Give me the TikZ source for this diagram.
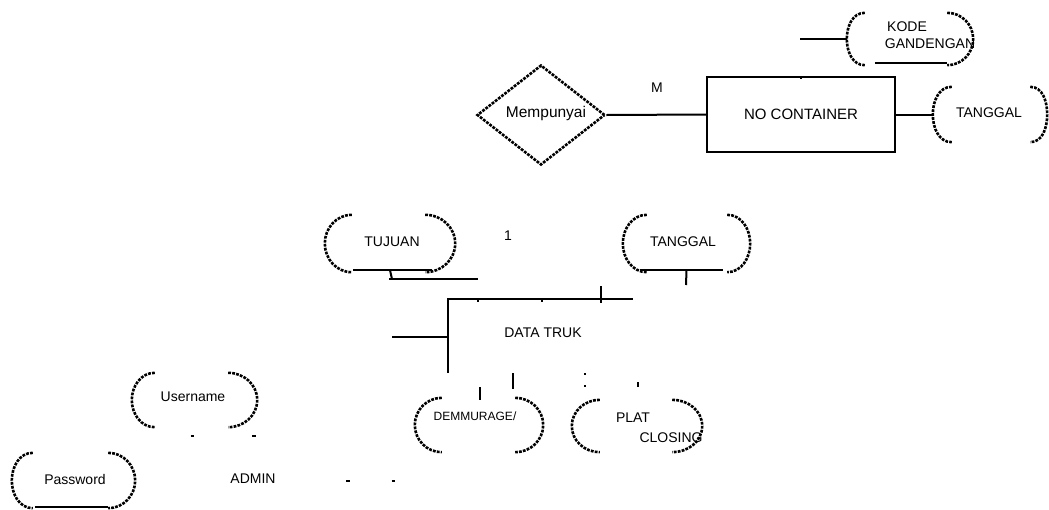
\documentclass[tikz,border=0pt]{standalone}
\usepackage{fontspec}
\setmainfont{Liberation Sans}
\usetikzlibrary{shapes.geometric}

\tikzset{
  line/.style={line width=2pt},
  thinline/.style={line width=1.5pt},
  rough/.style={line width=2.6pt, dash pattern=on 2.8pt off 1.2pt},
  attr/.style={draw=none, inner sep=0pt},
  lbl/.style={inner sep=0pt, font=\fontsize{14}{16}\selectfont},
  smalllbl/.style={inner sep=0pt, font=\fontsize{12}{14}\selectfont},
  dot/.style={line width=2.2pt},
}

% left and right halves of an attribute outline: node, left inset, right inset
\newcommand{\attrarcs}[3]{%
  \draw[rough] ([xshift=#2pt]#1.north west) to[out=180,in=90] (#1.west)
               to[out=-90,in=180] ([xshift=#2pt]#1.south west);
  \draw[rough] ([xshift=-#3pt]#1.north east) to[out=0,in=90] (#1.east)
               to[out=-90,in=0] ([xshift=-#3pt]#1.south east);}

\begin{document}
\begin{tikzpicture}[x=1pt,y=-1pt]
\useasboundingbox (0,0) rectangle (1049,509);

% ---------- NO CONTAINER ----------
\node[draw, line width=2pt, minimum width=188pt, minimum height=75pt, inner sep=0pt]
  (cont) at (801,114.5) {};
\node[lbl, font=\fontsize{15}{17}\selectfont] (contlbl) at (801,114) {NO CONTAINER};
\draw[thinline] (cont.north) -- ++(0,3);

\node[diamond, draw, rough, minimum width=128pt, minimum height=100pt, inner sep=0pt]
  (mp) at (541,115) {};
\node[lbl, font=\fontsize{15.5}{17}\selectfont] (mplbl) at (546,113) {Mempunyai};
\draw[line] (mp.east) -- (cont.west);
\node[lbl] (mM) at (657,88) {M};

% KODE GANDENGAN
\node[attr, minimum width=126pt, minimum height=52pt] (kode) at (910,39) {};
\attrarcs{kode}{18}{26}
\draw[line] ([xshift=28pt,yshift=2pt]kode.south west) -- ([xshift=-26pt,yshift=2pt]kode.south east);
\node[lbl] (kodeA) at (907,27) {KODE};
\node[lbl] (kodeB) at (930,44) {GANDENGAN};
\coordinate (kodeL) at (800,39);
\draw[line] (kodeL) -- (kode.west);

% TANGGAL (container)
\node[attr, minimum width=114pt, minimum height=55pt] (tgl1) at (990,114.5) {};
\attrarcs{tgl1}{19}{17}
\node[lbl] (tgl1lbl) at (989,113) {TANGGAL};
\draw[line] (cont.east) -- (tgl1.west);

% ---------- DATA TRUK ----------
\node[lbl] (dt) at (543,333) {DATA TRUK};
\coordinate (dtNW) at (448,299);
\coordinate (dtNE) at (633,299);
\coordinate (dtSW) at (448,373);
\draw[line] (dtSW) -- (dtNW) -- (dtNE);
\coordinate (dtL) at (392,337);
\coordinate (dtLi) at (448,337);
\draw[line] (dtL) -- (dtLi);
\coordinate (tk1) at (478,299);
\coordinate (tk2) at (542,299);
\draw[thinline] (tk1) -- ++(0,3);
\draw[thinline] (tk2) -- ++(0,3);
\coordinate (tk3) at (601,286);
\draw[line] (tk3) -- ++(0,17);

\node[lbl] (one) at (508,236) {1};

% TUJUAN
\node[attr, minimum width=130pt, minimum height=57pt] (tuj) at (390,243.5) {};
\attrarcs{tuj}{27}{30}
\draw[line] ([xshift=28pt,yshift=2pt]tuj.south west) -- ([xshift=-23pt,yshift=2pt]tuj.south east);
\node[lbl] (tujlbl) at (392,242) {TUJUAN};
\coordinate (tujT) at (392,279);
\coordinate (tujE) at (478,279);
\draw[line] ([yshift=2pt]tuj.south) -- (tujT);
\draw[line] ([xshift=-3pt]tujT) -- (tujE);

% TANGGAL (truk)
\node[attr, minimum width=127pt, minimum height=57pt] (tgl2) at (686.5,243.5) {};
\attrarcs{tgl2}{24}{23}
\draw[line] ([xshift=17pt,yshift=2pt]tgl2.south west) -- ([xshift=-27pt,yshift=2pt]tgl2.south east);
\node[lbl] (tgl2lbl) at (683,242) {TANGGAL};
\coordinate (tgl2T) at (686,285);
\draw[line] ([yshift=2pt]tgl2.south) -- (tgl2T);

% ticks above the lower attributes
\coordinate (d1) at (480,387);
\coordinate (d2) at (513,373);
\draw[line] (d1) -- ++(0,13);
\draw[line] (d2) -- ++(0,16);
\coordinate (p1) at (585,373);
\coordinate (p2) at (585,385);
\coordinate (p3) at (638,382);
\draw[dot] (p1) -- ++(0,2);
\draw[dot] (p2) -- ++(0,2);
\draw[dot] (p3) -- ++(0,5);

% DEMMURAGE/
\node[attr, minimum width=128pt, minimum height=54pt] (dem) at (479,425) {};
\attrarcs{dem}{27}{28}
\node[smalllbl] (demlbl) at (475,416) {DEMMURAGE/};

% PLAT CLOSING
\node[attr, minimum width=130pt, minimum height=52pt] (plat) at (637,426) {};
\attrarcs{plat}{28}{30}
\node[lbl] (platA) at (633,418) {PLAT};
\node[lbl] (platB) at (671,438) {CLOSING};

% ---------- ADMIN ----------
\node[lbl] (admin) at (253,479) {ADMIN};
\coordinate (a1) at (348,481);
\coordinate (a2) at (393,481);
\draw[dot] ([xshift=-2pt]a1) -- ++(4,0);
\draw[dot] ([xshift=-1.5pt]a2) -- ++(3,0);

% Username
\node[attr, minimum width=125pt, minimum height=54pt] (user) at (194.5,400) {};
\attrarcs{user}{23}{29}
\node[lbl] (userlbl) at (193,397) {Username};
\coordinate (u1) at (192,436);
\coordinate (u2) at (254,436);
\draw[dot] ([xshift=-1.5pt]u1) -- ++(3,0);
\draw[dot] ([xshift=-2pt]u2) -- ++(4,0);

% Password
\node[attr, minimum width=123pt, minimum height=55pt] (pass) at (73.5,480.5) {};
\attrarcs{pass}{21}{27}
\draw[line] ([xshift=23pt,yshift=1pt]pass.south west) -- ([xshift=-27pt,yshift=1pt]pass.south east);
\node[lbl] (passlbl) at (75,479) {Password};
\end{tikzpicture}
\end{document}
